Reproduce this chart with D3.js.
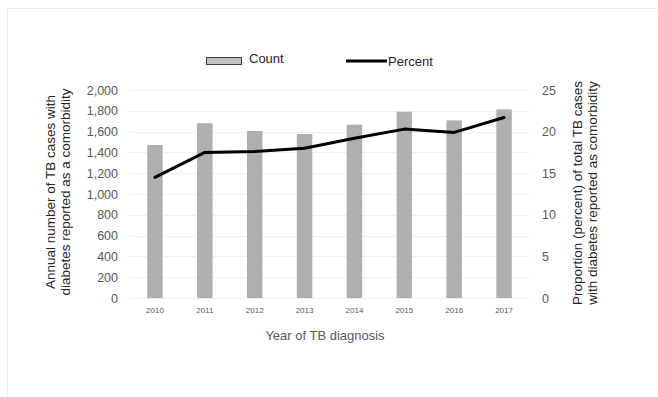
<!DOCTYPE html>
<html>
<head>
<meta charset="utf-8">
<script src="https://cdn.jsdelivr.net/npm/d3@7"></script>
<style>
  body { margin: 0; background: #fff; }
  svg { display: block; font-family: "Liberation Sans", Arial, sans-serif; }
</style>
</head>
<body>
<div id="chart"></div>
<script>
var years = ["2010", "2011", "2012", "2013", "2014", "2015", "2016", "2017"];
var counts = [1471, 1680, 1606, 1577, 1667, 1791, 1708, 1814];
var percents = [14.5, 17.5, 17.6, 18.0, 19.2, 20.3, 19.9, 21.7];
var countTicks = [0, 200, 400, 600, 800, 1000, 1200, 1400, 1600, 1800, 2000];
var percentTicks = [0, 5, 10, 15, 20, 25];

var width = 658, height = 397;
var margin = { left: 130, right: 129, top: 90, bottom: 99 };

var svg = d3.select("#chart")
    .append("svg")
    .attr("width", width)
    .attr("height", height);

// faint frame
svg.append("path")
    .attr("d", "M7.5," + height + "V8.5H" + width)
    .attr("fill", "none")
    .attr("stroke", "#ececec")
    .attr("stroke-width", 1);

var x = d3.scaleBand()
    .domain(years)
    .range([margin.left, width - margin.right])
    .paddingInner(0.69)
    .paddingOuter(0.345);

var yLeft = d3.scaleLinear()
    .domain([0, 2000])
    .range([height - margin.bottom, margin.top]);

var yRight = d3.scaleLinear()
    .domain([0, 25])
    .range([height - margin.bottom, margin.top]);

// gridlines
svg.append("g")
    .selectAll("line")
    .data(countTicks)
    .enter()
    .append("line")
    .attr("x1", margin.left)
    .attr("x2", width - margin.right)
    .attr("y1", function (d) { return Math.round(yLeft(d)) + 0.5; })
    .attr("y2", function (d) { return Math.round(yLeft(d)) + 0.5; })
    .attr("stroke", "#f0f0f0");

// bars
svg.append("g")
    .selectAll("rect")
    .data(counts)
    .enter()
    .append("rect")
    .attr("x", function (d, i) { return x(years[i]); })
    .attr("width", x.bandwidth())
    .attr("y", function (d) { return yLeft(d); })
    .attr("height", function (d) { return yLeft(0) - yLeft(d); })
    .attr("fill", "#afafaf");

// percent line
var line = d3.line()
    .x(function (d, i) { return x(years[i]) + x.bandwidth() / 2; })
    .y(function (d) { return yRight(d); });

svg.append("path")
    .datum(percents)
    .attr("d", line)
    .attr("fill", "none")
    .attr("stroke", "#000")
    .attr("stroke-width", 3)
    .attr("stroke-linejoin", "round")
    .attr("stroke-linecap", "round");

// left axis
var leftAxis = svg.append("g")
    .attr("transform", "translate(" + (margin.left - 9) + ",0)")
    .call(d3.axisLeft(yLeft).tickValues(countTicks).tickSize(0).tickFormat(d3.format(",")));
leftAxis.select(".domain").remove();
leftAxis.selectAll("text")
    .attr("fill", "#595959")
    .style("font-size", "12.5px");

// right axis
var rightAxis = svg.append("g")
    .attr("transform", "translate(" + (width - margin.right + 10) + ",0)")
    .call(d3.axisRight(yRight).tickValues(percentTicks).tickSize(0));
rightAxis.select(".domain").remove();
rightAxis.selectAll("text")
    .attr("fill", "#595959")
    .style("font-size", "12.5px");

// bottom axis
var bottomAxis = svg.append("g")
    .attr("transform", "translate(0," + (height - margin.bottom) + ")")
    .call(d3.axisBottom(x).tickSize(0).tickPadding(9));
bottomAxis.select(".domain").remove();
bottomAxis.selectAll("text")
    .attr("fill", "#595959")
    .style("font-size", "8px");

// axis titles
svg.append("text")
    .attr("x", 325)
    .attr("y", 340)
    .attr("text-anchor", "middle")
    .attr("fill", "#595959")
    .style("font-size", "13px")
    .text("Year of TB diagnosis");

var leftTitle = svg.append("text")
    .attr("transform", "translate(55,192) rotate(-90)")
    .attr("text-anchor", "middle")
    .attr("fill", "#262626")
    .style("font-size", "13.5px");
leftTitle.append("tspan").attr("x", 0).attr("dy", 0).text("Annual number of TB cases with");
leftTitle.append("tspan").attr("x", 0).attr("dy", 14.5).text("diabetes reported as a comorbidity");

var rightTitle = svg.append("text")
    .attr("transform", "translate(582,193) rotate(-90)")
    .attr("text-anchor", "middle")
    .attr("fill", "#262626")
    .style("font-size", "13.5px");
rightTitle.append("tspan").attr("x", 0).attr("dy", 0).text("Proportion (percent) of total TB cases");
rightTitle.append("tspan").attr("x", 0).attr("dy", 14.5).text("with diabetes reported as comorbidity");

// legend
var legend = svg.append("g");
legend.append("rect")
    .attr("x", 206.5)
    .attr("y", 57.5)
    .attr("width", 35)
    .attr("height", 7)
    .attr("fill", "#c0c0c0")
    .attr("stroke", "#404040")
    .attr("stroke-width", 1);
legend.append("text")
    .attr("x", 249)
    .attr("y", 63)
    .attr("fill", "#262626")
    .style("font-size", "13px")
    .text("Count");
legend.append("line")
    .attr("x1", 346)
    .attr("x2", 387)
    .attr("y1", 61)
    .attr("y2", 61)
    .attr("stroke", "#000")
    .attr("stroke-width", 3);
legend.append("text")
    .attr("x", 388)
    .attr("y", 66)
    .attr("fill", "#262626")
    .style("font-size", "13px")
    .text("Percent");
</script>
</body>
</html>
